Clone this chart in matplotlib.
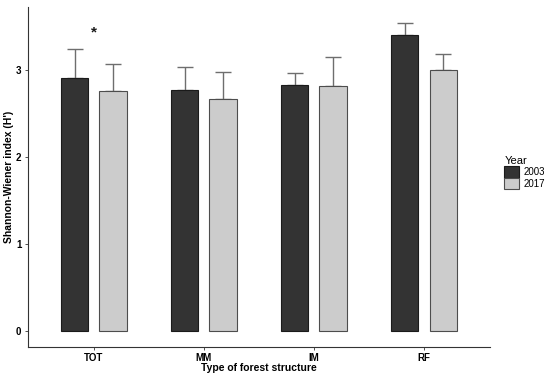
import numpy as np
import matplotlib.pyplot as plt
from matplotlib.patches import Patch

plt.rcParams['font.family'] = ['Liberation Sans', 'DejaVu Sans']

structures = ["TOT", "MM", "IM", "RF"]
years = ["2003", "2017"]
mean_2003 = [2.90, 2.77, 2.82, 3.40]
mean_2017 = [2.76, 2.67, 2.81, 3.00]
upper_2003 = [3.24, 3.03, 2.96, 3.54]
upper_2017 = [3.07, 2.97, 3.15, 3.18]
star_structure = "TOT"
star_height = 3.43

colors = {"2003": "#333333", "2017": "#cccccc"}
edges = {"2003": "#1a1a1a", "2017": "#4d4d4d"}

fig = plt.figure(figsize=(5.5, 3.76), dpi=100)
ax = fig.add_axes([0.0504, 0.078, 0.8406, 0.9026])

x = np.arange(1, len(structures) + 1)
offset = 0.175
width = 0.25
series = [(mean_2003, upper_2003, -offset, "2003"),
          (mean_2017, upper_2017, offset, "2017")]
for means, uppers, off, yr in series:
    means = np.array(means)
    uppers = np.array(uppers)
    ax.bar(x + off, means, width, color=colors[yr], edgecolor=edges[yr],
           linewidth=0.8, zorder=2)
    ax.errorbar(x + off, uppers, yerr=[uppers - means, np.zeros_like(means)],
                fmt='none', ecolor="#6e6e6e", elinewidth=1.0, capsize=5.5,
                capthick=1.0, zorder=1)

xs = x[structures.index(star_structure)]
ax.text(xs, star_height, "*", ha='center', va='center', fontsize=11,
        fontweight='bold', color='#1a1a1a')

ax.set_xlim(0.4, 4.6)
ax.set_ylim(-0.177, 3.717)
ax.set_xticks(x)
ax.set_xticklabels(structures, fontweight='bold', fontsize=7)
ax.set_yticks([0, 1, 2, 3])
ax.set_yticklabels(["0", "1", "2", "3"], fontweight='bold', fontsize=7)
ax.tick_params(axis='both', length=2.5, width=0.6, color='#333333', pad=2)
for s in ['top', 'right']:
    ax.spines[s].set_visible(False)
for s in ['left', 'bottom']:
    ax.spines[s].set_color('#333333')
    ax.spines[s].set_linewidth(0.8)

ax.set_xlabel("Type of forest structure", fontweight='bold', fontsize=7.5, labelpad=0)
ax.set_ylabel("Shannon-Wiener index (H')", fontweight='bold', fontsize=7.5)
ax.yaxis.set_label_coords(-0.029, 0.5)

handles = [Patch(facecolor=colors[y], edgecolor=edges[y], linewidth=0.8) for y in years]
leg = fig.legend(handles, years, title="Year", loc='upper left',
                 bbox_to_anchor=(0.917, 0.585), frameon=False, fontsize=7,
                 title_fontsize=8, handlelength=1.55, handleheight=1.45,
                 handletextpad=0.45, labelspacing=0.0, borderaxespad=0,
                 borderpad=0)
leg._legend_box.align = "left"

fig.savefig("out.png", dpi=100)
